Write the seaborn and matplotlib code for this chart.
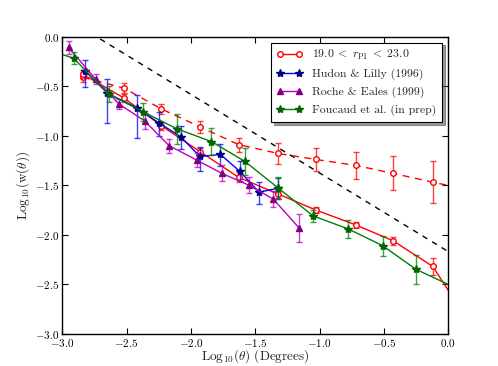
"""
Angular correlation function w(theta) compared with literature measurements.
"""

import numpy as np
import matplotlib.pyplot as plt
import seaborn as sns

sns.set_style("ticks")
plt.rcParams["font.family"] = "serif"
plt.rcParams["font.serif"] = ["cmr10", "DejaVu Serif"]
plt.rcParams["mathtext.fontset"] = "cm"
plt.rcParams["axes.formatter.use_mathtext"] = True

# ── Data (log10 theta [deg], log10 w) ─────────────────────────────────────────
# this work, solid line
ps1_x = [-2.84, -2.52, -2.23, -1.93, -1.63, -1.32, -1.03, -0.72, -0.43, -0.12, 0.18]
ps1_y = [-0.38, -0.62, -0.90, -1.16, -1.42, -1.59, -1.75, -1.90, -2.06, -2.32, -2.92]
ps1_err = [0.04, 0.04, 0.04, 0.04, 0.05, 0.04, 0.03, 0.03, 0.04, 0.09, 0.10]

# this work, dashed line
ps1b_x = [-2.84, -2.52, -2.23, -1.93, -1.63, -1.32, -1.03, -0.72, -0.43, -0.12, 0.18]
ps1b_y = [-0.41, -0.52, -0.73, -0.91, -1.09, -1.18, -1.24, -1.30, -1.38, -1.47, -1.55]
ps1b_err = [0.05, 0.05, 0.05, 0.06, 0.07, 0.11, 0.12, 0.14, 0.17, 0.21, 0.22]

# Hudon & Lilly (1996)
hl_x = [-2.82, -2.65, -2.42, -2.25, -2.08, -1.93, -1.77, -1.62, -1.47, -1.32]
hl_y = [-0.35, -0.57, -0.72, -0.87, -1.01, -1.21, -1.19, -1.36, -1.57, -1.53]
hl_lo = [0.16, 0.30, 0.30, 0.13, 0.12, 0.15, 0.12, 0.10, 0.12, 0.11]
hl_hi = [0.11, 0.14, 0.13, 0.11, 0.11, 0.10, 0.11, 0.10, 0.10, 0.10]

# Roche & Eales (1999)
re_x = [-2.95, -2.74, -2.56, -2.36, -2.17, -1.95, -1.76, -1.55, -1.36, -1.16]
re_y = [-0.11, -0.43, -0.68, -0.85, -1.10, -1.25, -1.38, -1.50, -1.64, -1.93]
re_err = [0.07, 0.05, 0.05, 0.08, 0.07, 0.07, 0.08, 0.08, 0.08, 0.14]

# Foucaud et al. (in prep)
fc_x = [-3.18, -2.91, -2.64, -2.37, -2.11, -1.84, -1.58, -1.32, -1.05, -0.78, -0.51, -0.25, 0.28]
fc_y = [-0.10, -0.22, -0.58, -0.76, -0.93, -1.06, -1.26, -1.53, -1.81, -1.94, -2.11, -2.35, -2.67]
fc_err = [0.05, 0.06, 0.08, 0.09, 0.15, 0.14, 0.14, 0.11, 0.06, 0.09, 0.10, 0.15, 0.10]

# power-law reference line
model_x = [-3.0, 0.0]
model_y = [0.21, -2.17]

# ── Plot ──────────────────────────────────────────────────────────────────────
fig = plt.figure(figsize=(4.98, 3.66), dpi=100)
ax = fig.add_axes([0.125, 0.088, 0.775, 0.812])

sns.lineplot(x=model_x, y=model_y, ax=ax, color="black", linestyle=(0, (4, 4)),
             linewidth=1.0)

ebar = dict(fmt="none", capsize=2.5, elinewidth=1.0, capthick=1.0, alpha=0.75)

ax.errorbar(ps1b_x, ps1b_y, yerr=ps1b_err, ecolor="red", **ebar)
ax.plot(ps1b_x, ps1b_y, color="red", linestyle=(0, (5, 4)), linewidth=1.0,
        marker="o", markersize=4, markerfacecolor="white", markeredgecolor="red")

ax.errorbar(ps1_x, ps1_y, yerr=ps1_err, ecolor="red", **ebar)
ax.plot(ps1_x, ps1_y, color="red", linewidth=1.0, marker="o", markersize=4,
        markerfacecolor="white", markeredgecolor="red",
        label=r"$19.0 \;<\; r_{\rm P1} \;<\; 23.0$")

ax.errorbar(hl_x, hl_y, yerr=[hl_lo, hl_hi], ecolor="blue", **ebar)
ax.plot(hl_x, hl_y, color="blue", linewidth=1.0, marker="*", markersize=6,
        markerfacecolor="navy", markeredgecolor="navy", label="Hudon & Lilly (1996)")

ax.errorbar(re_x, re_y, yerr=re_err, ecolor="m", **ebar)
ax.plot(re_x, re_y, color="m", linewidth=1.0, marker="^", markersize=5,
        markerfacecolor="purple", markeredgecolor="purple", label="Roche & Eales (1999)")

ax.errorbar(fc_x, fc_y, yerr=fc_err, ecolor="green", **ebar)
ax.plot(fc_x, fc_y, color="green", linewidth=1.0, marker="*", markersize=6,
        markerfacecolor="darkgreen", markeredgecolor="darkgreen",
        label="Foucaud et al. (in prep)")

ax.set_xlim(-3.0, 0.0)
ax.set_ylim(-3.0, 0.0)
ax.set_xticks(np.arange(-3.0, 0.01, 0.5))
ax.set_yticks(np.arange(-3.0, 0.01, 0.5))
ax.tick_params(direction="in", top=True, right=True, labelsize=8, length=4,
               width=0.8, pad=2, colors="black")
for side in ax.spines.values():
    side.set_linewidth(1.0)
    side.set_color("black")

ax.set_xlabel(r"Log$_{10}$($\theta$) (Degrees)", fontsize=9.5, labelpad=-1)
ax.set_ylabel(r"Log$_{10}$(w($\theta$))", fontsize=9.5, labelpad=2)

leg = ax.legend(loc="upper right", numpoints=2, fontsize=8.5, frameon=True,
                fancybox=False, shadow={"color": "0.35", "alpha": 0.6},
                handlelength=2.2, borderpad=0.5, labelspacing=0.55)
leg.get_frame().set_edgecolor("black")
leg.get_frame().set_linewidth(0.8)

plt.savefig("out.png", dpi=100)
